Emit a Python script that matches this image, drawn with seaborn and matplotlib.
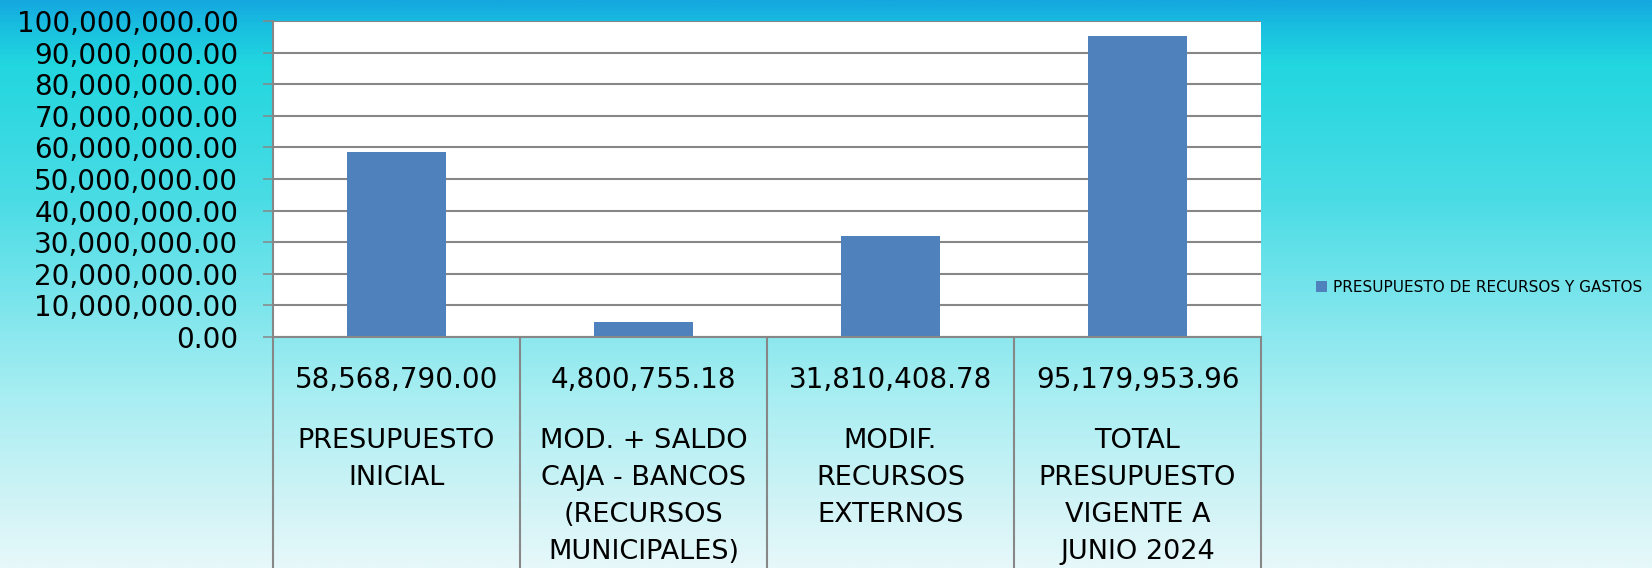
import numpy as np
import pandas as pd
import seaborn as sns
import matplotlib.pyplot as plt
import matplotlib.transforms as mtransforms
from matplotlib.colors import LinearSegmentedColormap

# Datos del gráfico
categorias = ['PRESUPUESTO INICIAL',
              'MOD. + SALDO CAJA - BANCOS (RECURSOS MUNICIPALES)',
              'MODIF. RECURSOS EXTERNOS',
              'TOTAL PRESUPUESTO VIGENTE A JUNIO 2024']
etiquetas = [['PRESUPUESTO', 'INICIAL'],
             ['MOD. + SALDO', 'CAJA - BANCOS', '(RECURSOS', 'MUNICIPALES)'],
             ['MODIF.', 'RECURSOS', 'EXTERNOS'],
             ['TOTAL', 'PRESUPUESTO', 'VIGENTE A', 'JUNIO 2024']]
valores = [58568790.00, 4800755.18, 31810408.78, 95179953.96]
serie = 'PRESUPUESTO DE RECURSOS Y GASTOS'

df = pd.DataFrame({'categoria': categorias, 'valor': valores})

W, H = 1652, 568
sns.set_theme(style='white')
plt.rcParams['font.family'] = ['DejaVu Sans']

fig = plt.figure(figsize=(W / 100, H / 100), dpi=100)

# Fondo degradado (azul arriba, casi blanco abajo)
bg = fig.add_axes([0, 0, 1, 1], zorder=-10)
stops = [(0.0, '#14a8df'), (0.04, '#19bde0'), (0.11, '#22d6df'),
         (0.35, '#4adce5'), (0.53, '#7be5ec'), (0.70, '#a8eef2'),
         (0.88, '#cff3f6'), (1.0, '#e6f8fa')]
cmap = LinearSegmentedColormap.from_list('fondo', stops)
grad = np.linspace(0, 1, 400).reshape(-1, 1)
bg.imshow(grad, aspect='auto', cmap=cmap, extent=[0, 1, 0, 1], origin='upper')
bg.set_axis_off()

left, right, top, bottom = 273, 1261, 21, 337
ax = fig.add_axes([left / W, 1 - bottom / H, (right - left) / W, (bottom - top) / H])
ax.set_facecolor('white')

sns.barplot(data=df, x='categoria', y='valor', color='#4f81bd', width=0.4,
            saturation=1, label=serie, linewidth=0, edgecolor='none', ax=ax, zorder=3)
if ax.get_legend() is not None:
    ax.get_legend().remove()

grid_c = '#878787'
ax.set_ylim(0, 100_000_000)
ax.set_xlim(-0.5, 3.5)
ax.set_yticks(np.arange(0, 100_000_001, 10_000_000))
ax.set_yticklabels([f'{v:,.2f}' for v in ax.get_yticks()], fontsize=20, color='black')
ax.yaxis.grid(True, color=grid_c, linewidth=1.5)
ax.set_axisbelow(True)
ax.tick_params(axis='y', left=True, length=7, width=1.1, color=grid_c, pad=18)
ax.tick_params(axis='x', bottom=False, labelbottom=False)
ax.set_xlabel('')
ax.set_ylabel('')
for s in ['top', 'right']:
    ax.spines[s].set_visible(False)
ax.spines['left'].set_color(grid_c)
ax.spines['left'].set_linewidth(1.5)
ax.spines['bottom'].set_color(grid_c)
ax.spines['bottom'].set_linewidth(1.5)
ax.spines['bottom'].set_zorder(4)

# Tabla de datos bajo el eje
trans = mtransforms.blended_transform_factory(ax.transData, fig.transFigure)
for xb in np.arange(-0.5, 4.0, 1.0):
    ax.plot([xb, xb], [1 - bottom / H, 0], transform=trans, color=grid_c,
            linewidth=1.5, clip_on=False)
for i, (v, lineas) in enumerate(zip(valores, etiquetas)):
    ax.text(i, 1 - 380 / H, f'{v:,.2f}', transform=trans, ha='center',
            va='center', fontsize=20, color='black')
    for j, linea in enumerate(lineas):
        ax.text(i, 1 - (441 + 37 * j) / H, linea, transform=trans, ha='center',
                va='center', fontsize=19.5, color='black')

fig.legend(loc='center left', bbox_to_anchor=(1310 / W, 1 - 287 / H), frameon=False,
           fontsize=11, labelcolor='black', handlelength=0.7, handleheight=0.7,
           handletextpad=0.4, borderaxespad=0)

fig.savefig('out.png', dpi=100)
